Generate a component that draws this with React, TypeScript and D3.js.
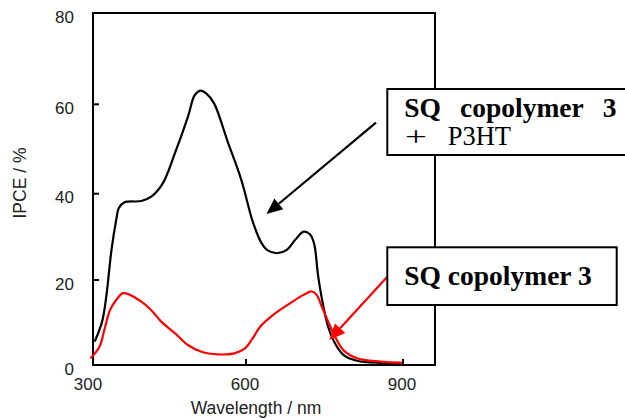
import React, { useRef, useEffect } from "react";
import * as d3 from "d3";

// SQ copolymer 3 + P3HT (black)
const blendWavelength = [311, 325, 333, 343, 352, 357, 368, 400, 419, 441, 464, 489, 502, 513, 524, 539, 566, 591, 614, 630, 640, 659, 678, 694, 710, 722, 730, 738, 748, 757, 770, 786, 812, 856, 894];
const blendIpce = [5.5, 10.2, 16.1, 27, 33.9, 36.7, 38, 38.3, 39.3, 42.3, 49, 57.2, 62, 63, 62.4, 60.2, 51.3, 43.1, 33.1, 28.5, 27, 26.2, 27, 29.3, 31.2, 30.6, 28.5, 20.8, 13.7, 9.0, 5.1, 2.4, 1.0, 0.5, 0.5];

// SQ copolymer 3 alone (red)
const sqWavelength = [303, 320, 330, 340, 352, 365, 378, 400, 419, 438, 464, 489, 515, 546, 578, 598, 613, 627, 652, 684, 710, 726, 735, 745, 757, 770, 786, 812, 856, 898];
const sqIpce = [1.6, 4.3, 8.6, 12.9, 15.3, 16.9, 16.5, 14.9, 12.9, 10.2, 7.5, 4.7, 3.1, 2.5, 2.75, 3.9, 6.3, 9.0, 11.8, 14.5, 16.5, 17.3, 16.5, 13.7, 10.2, 6.7, 3.5, 1.6, 0.8, 0.5];

const xTicks = [300, 600, 900];
const yTicks = [0, 20, 40, 60, 80];
const xLabel = "Wavelength / nm";
const yLabel = "IPCE / %";

function arrow(g, x1, y1, x2, y2, color) {
    const ang = Math.atan2(y2 - y1, x2 - x1);
    const len = 16, half = 7;
    const bx = x2 - len * Math.cos(ang), by = y2 - len * Math.sin(ang);
    g.append("line")
        .attr("x1", x1).attr("y1", y1)
        .attr("x2", bx).attr("y2", by)
        .attr("stroke", color).attr("stroke-width", 2.2);
    g.append("polygon")
        .attr("points", [
            [x2, y2],
            [bx + half * Math.sin(ang), by - half * Math.cos(ang)],
            [bx - half * Math.sin(ang), by + half * Math.cos(ang)]
        ].map(p => p.join(",")).join(" "))
        .attr("fill", color);
}

function App() {
    const svgRef = useRef(null);

    useEffect(() => {
        const svg = d3.select(svgRef.current);
        svg.selectAll("*").remove();

        const xScale = d3.scaleLinear().domain([300, 900]).range([89, 403]);
        const yScale = d3.scaleLinear()
            .domain([0, 20, 40, 60, 80])
            .range([365, 280, 193.7, 104.3, 13]);

        const sans = "Liberation Sans, Arial, sans-serif";
        const serif = "Liberation Serif, Times New Roman, serif";

        // frame
        svg.append("rect")
            .attr("x", 93).attr("y", 13)
            .attr("width", 342).attr("height", 352)
            .attr("fill", "none").attr("stroke", "#000").attr("stroke-width", 2);

        // ticks (inward)
        svg.selectAll(".ytick")
            .data(yTicks.filter(v => v > 0 && v < 80))
            .join("line")
            .attr("x1", 93).attr("x2", 99)
            .attr("y1", yScale).attr("y2", yScale)
            .attr("stroke", "#000").attr("stroke-width", 2);
        svg.selectAll(".xtick")
            .data(xTicks.filter(v => v > 300))
            .join("line")
            .attr("x1", xScale).attr("x2", xScale)
            .attr("y1", 365).attr("y2", 359)
            .attr("stroke", "#000").attr("stroke-width", 2);

        // tick labels
        svg.selectAll(".ylab")
            .data(yTicks)
            .join("text")
            .attr("x", 74)
            .attr("y", v => yScale(v) + 9.5)
            .attr("text-anchor", "end")
            .attr("font-family", sans).attr("font-size", 17).attr("fill", "#222")
            .text(v => v);
        svg.selectAll(".xlab")
            .data(xTicks)
            .join("text")
            .attr("x", v => xScale(v) - 1)
            .attr("y", 390)
            .attr("text-anchor", "middle")
            .attr("font-family", sans).attr("font-size", 17).attr("fill", "#222")
            .text(v => v);

        svg.append("text")
            .attr("x", 256).attr("y", 414)
            .attr("text-anchor", "middle")
            .attr("font-family", sans).attr("font-size", 17.5).attr("fill", "#222")
            .text(xLabel);
        svg.append("text")
            .attr("transform", "translate(26,183) rotate(-90)")
            .attr("text-anchor", "middle")
            .attr("font-family", sans).attr("font-size", 17.5).attr("fill", "#222")
            .text(yLabel);

        const myLine = d3.line()
            .x(d => xScale(d[0]))
            .y(d => yScale(d[1]))
            .curve(d3.curveCatmullRom.alpha(0.5));

        svg.append("path")
            .attr("d", myLine(blendWavelength.map((w, i) => [w, blendIpce[i]])))
            .attr("fill", "none").attr("stroke", "#000").attr("stroke-width", 2.2);
        svg.append("path")
            .attr("d", myLine(sqWavelength.map((w, i) => [w, sqIpce[i]])))
            .attr("fill", "none").attr("stroke", "#ff0000").attr("stroke-width", 2.2);

        // annotations
        const ann = svg.append("g");
        arrow(ann, 376, 122.7, 266.5, 214, "#000");
        arrow(ann, 387.3, 276.7, 329.3, 340, "#ff0000");

        ann.append("rect")
            .attr("x", 387.3).attr("y", 89)
            .attr("width", 260).attr("height", 66)
            .attr("fill", "#fff").attr("stroke", "#000").attr("stroke-width", 2);
        ann.append("rect")
            .attr("x", 387.3).attr("y", 247.3)
            .attr("width", 229.4).attr("height", 57.7)
            .attr("fill", "#fff").attr("stroke", "#000").attr("stroke-width", 2);

        const bold = (x, y, t) => ann.append("text")
            .attr("x", x).attr("y", y)
            .attr("font-family", serif).attr("font-weight", "bold")
            .attr("font-size", 27.5).attr("fill", "#000")
            .text(t);
        bold(404.3, 116.7, "SQ");
        bold(460, 116.7, "copolymer");
        bold(602.7, 116.7, "3");
        bold(404.3, 285, "SQ copolymer 3");

        ann.append("text")
            .attr("transform", "translate(405,146) scale(1.55,1.08)")
            .attr("font-family", serif).attr("font-size", 25).attr("fill", "#000")
            .text("+");
        ann.append("text")
            .attr("x", 447.7).attr("y", 145)
            .attr("font-family", serif).attr("font-size", 26.5).attr("fill", "#000")
            .text("P3HT");
    }, []);

    return (
        <svg
            ref={svgRef}
            width={625}
            height={419}
            style={{ position: "absolute", left: 0, top: 0, background: "#fff" }}
        />
    );
}

export default App;
